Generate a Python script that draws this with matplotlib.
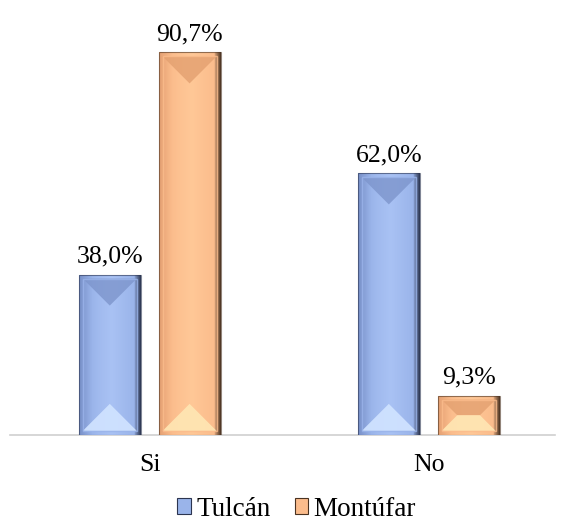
import numpy as np
import matplotlib
matplotlib.use("Agg")
import matplotlib.pyplot as plt
from matplotlib.patches import Polygon, Patch, Rectangle

categories = ["Si", "No"]
tulcan = [38.0, 62.0]
montufar = [90.7, 9.3]
series_names = ["Tulcán", "Montúfar"]

plt.rcParams["font.family"] = ["Liberation Serif", "DejaVu Serif"]

# (left shade, mid, right highlight, top facet, bottom facet, dark edge)
palettes = [
    ("#7890c8", "#9ab4ea", "#a9c2f4", "#7d95cc", "#cfe2ff", "#2c3550"),
    ("#e5a173", "#fbbc8c", "#ffc897", "#e3a070", "#ffe5b2", "#4a3322"),
]

fig = plt.figure(figsize=(5.65, 5.29), dpi=100)
ax = fig.add_axes([0.018, 0.178, 0.964, 0.797])
ax.set_xlim(-0.5, 1.452)
ax.set_ylim(0, 100)
for s in ["top", "left", "right"]:
    ax.spines[s].set_visible(False)
ax.spines["bottom"].set_color("#d0d0d0")
ax.spines["bottom"].set_linewidth(1.2)
ax.set_yticks([])
ax.set_xticks(range(len(categories)))
ax.set_xticklabels(categories, fontsize=18.5)
ax.tick_params(axis="x", length=0, pad=14)

# pixel -> data scale
fig.canvas.draw()
p0 = ax.transData.transform((0, 0))
p1 = ax.transData.transform((1, 1))
sx = 1.0 / (p1[0] - p0[0])
sy = 1.0 / (p1[1] - p0[1])

width = 0.222
offset = 0.143


def bevel_bar(xc, h, pal):
    x0, x1 = xc - width / 2, xc + width / 2
    left, mid, right, topc, botc, edge = pal
    cmap = matplotlib.colors.LinearSegmentedColormap.from_list(
        "g", [left, mid, right, mid, edge]
    )
    grad = np.concatenate([np.linspace(0, 0.35, 60), np.linspace(0.35, 0.75, 120),
                           np.linspace(0.8, 1.0, 20)])
    bar = ax.bar(xc, h, width=width, color=mid, edgecolor="none", zorder=2)[0]
    im = ax.imshow(grad[np.newaxis, :], cmap=cmap, extent=[x0, x1, 0, h],
                   aspect="auto", zorder=3, interpolation="bilinear")
    im.set_clip_path(bar)
    # facets
    ins_x = 4 * sx
    ins_y = 4 * sy
    wpx = (x1 - x0) / sx - 8
    hpx = h / sy - 8
    a, b = x0 + ins_x, x1 - ins_x
    lo, hi = ins_y, h - ins_y
    if hpx > wpx:
        d = wpx / 2
        top = [(a, hi), (b, hi), (xc, hi - d * sy)]
        bot = [(a, lo), (b, lo), (xc, lo + d * sy)]
    else:
        d = hpx / 2
        ym = (lo + hi) / 2
        top = [(a, hi), (b, hi), (b - d * sx, ym), (a + d * sx, ym)]
        bot = [(a, lo), (b, lo), (b - d * sx, ym), (a + d * sx, ym)]
    ax.add_patch(Polygon(top, closed=True, facecolor=topc, edgecolor="none", alpha=0.8, zorder=4))
    ax.add_patch(Polygon(bot, closed=True, facecolor=botc, edgecolor="none", alpha=0.95, zorder=4))
    # inner frame and outer edge
    ax.add_patch(Rectangle((a, lo), b - a, hi - lo, fill=False,
                           edgecolor=mid, linewidth=1.0, alpha=0.8, zorder=5))
    ax.add_patch(Rectangle((x0, 0), width, h, fill=False,
                           edgecolor=edge, linewidth=0.8, alpha=0.6, zorder=5))
    ax.text(xc, h + 7 * sy, f"{h:.1f}".replace(".", ",") + "%", ha="center", va="bottom",
            fontsize=18.5, zorder=6)


x = np.arange(len(categories))
for i in range(len(categories)):
    bevel_bar(x[i] - offset, tulcan[i], palettes[0])
    bevel_bar(x[i] + offset, montufar[i], palettes[1])

ax.set_xlim(-0.5, 1.452)
ax.set_ylim(0, 100)

handles = [Patch(facecolor=palettes[0][1], edgecolor=palettes[0][5], linewidth=0.8),
           Patch(facecolor=palettes[1][1], edgecolor=palettes[1][5], linewidth=0.8)]
fig.legend(handles, series_names, loc="lower center", bbox_to_anchor=(0.525, -0.022),
           ncol=2, frameon=False, fontsize=19.5, handlelength=0.5, handleheight=0.5,
           handletextpad=0.2, columnspacing=0.9, borderpad=0.2)

fig.savefig("out.png", dpi=100)
